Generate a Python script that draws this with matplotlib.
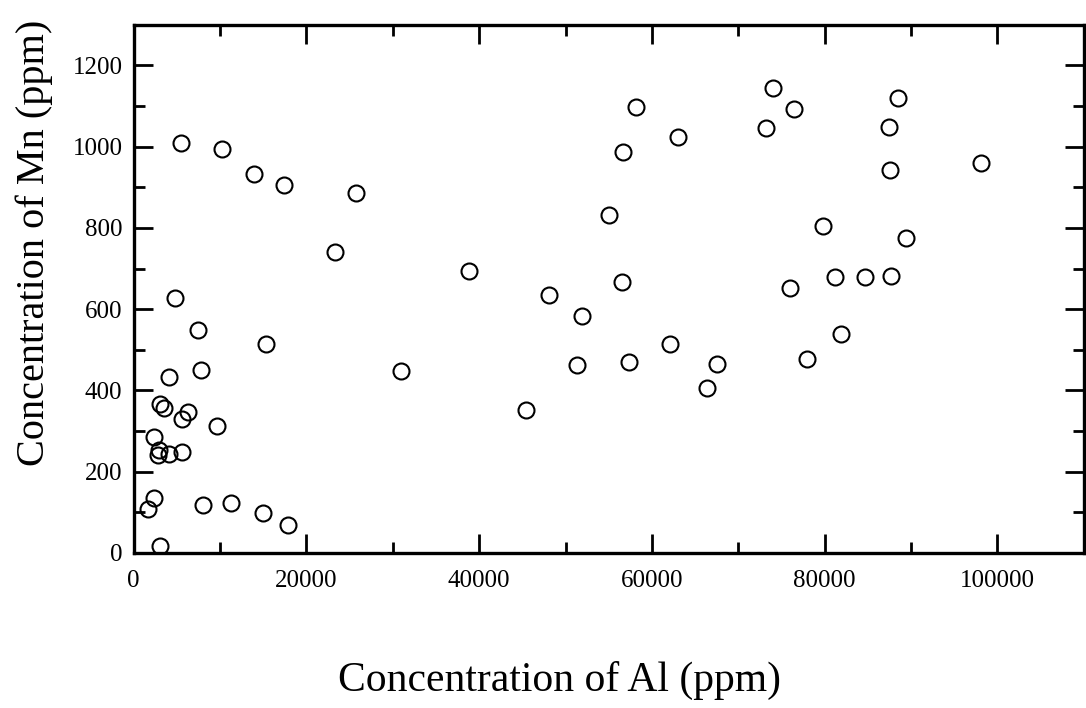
import numpy as np
import matplotlib.pyplot as plt
from matplotlib.ticker import MultipleLocator

# Al and Mn concentrations (ppm) for each sample
al_ppm = [5440, 10200, 13940, 17390, 25700, 23350, 4810, 7410, 15310, 7780,
          4065, 30920, 3050, 3570, 6280, 5600, 9670, 2375, 2990, 2800,
          4075, 5610, 2420, 1710, 8030, 11230, 15030, 17830, 3050, 38830,
          48070, 56590, 54990, 56630, 58130, 63030, 74010, 73160, 76490, 76010,
          51860, 62080, 51340, 57300, 67540, 66330, 45400, 88500, 87500, 87530,
          98070, 79820, 89440, 81190, 84660, 87730, 81840, 77940]
mn_ppm = [1008, 995, 932, 906, 886, 741, 628, 548, 514, 450,
          434, 447, 367, 357, 346, 330, 312, 286, 253, 241,
          244, 248, 136, 108, 117, 123, 98, 69, 16, 694,
          635, 666, 832, 986, 1097, 1025, 1144, 1046, 1093, 651,
          583, 514, 463, 470, 464, 406, 353, 1121, 1049, 942,
          960, 804, 775, 679, 680, 682, 540, 478]

x_ticks = [0, 20000, 40000, 60000, 80000, 100000]
y_ticks = [0, 200, 400, 600, 800, 1000, 1200]

plt.rcParams['font.family'] = ['Liberation Serif', 'DejaVu Serif']

fig = plt.figure(figsize=(10.86, 7.08), dpi=100)
ax = fig.add_axes([0.123, 0.219, 0.875, 0.746])

ax.plot(al_ppm, mn_ppm, linestyle='none', marker='o', markersize=11.5,
        markerfacecolor='none', markeredgecolor='black', markeredgewidth=1.5)

ax.set_xlim(0, 110000)
ax.set_ylim(0, 1300)
ax.set_xticks(x_ticks)
ax.set_yticks(y_ticks)
ax.set_xticklabels([str(v) for v in x_ticks])
ax.set_yticklabels([str(v) for v in y_ticks])
ax.xaxis.set_minor_locator(MultipleLocator(10000))
ax.yaxis.set_minor_locator(MultipleLocator(100))

ax.tick_params(which='both', direction='in', top=True, right=True,
               width=2, labelsize=18, colors='black')
ax.tick_params(which='major', length=14)
ax.tick_params(which='minor', length=8)
ax.tick_params(axis='x', which='major', pad=12)
ax.tick_params(axis='y', which='major', pad=8)

for side in ax.spines.values():
    side.set_linewidth(2.4)

ax.set_xlabel('Concentration of Al (ppm)', fontsize=30)
ax.set_ylabel('Concentration of Mn (ppm)', fontsize=29)
ax.xaxis.set_label_coords(0.448, -0.205)
ax.yaxis.set_label_coords(-0.085, 0.587)

plt.savefig('out.png', dpi=100)
